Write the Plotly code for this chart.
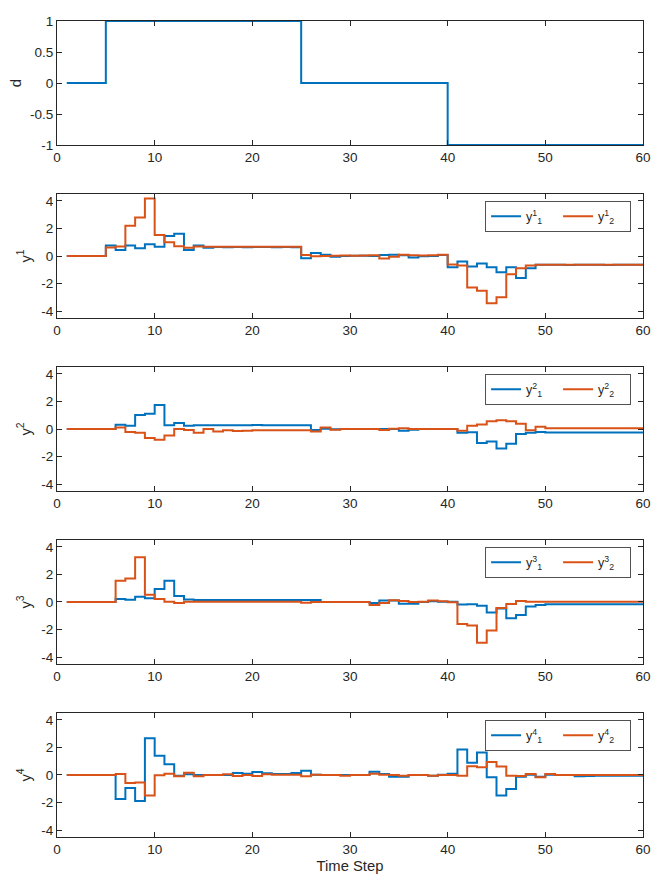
import numpy as np
import plotly.graph_objects as go
from plotly.subplots import make_subplots

# time steps 1..60
t = list(range(1, 61))

# disturbance d
d = [0] * 4 + [1] * 20 + [0] * 15 + [-1] * 21

# y^1 outputs
y1_1 = [0, 0, 0, 0, 0.76, 0.43, 0.76, 0.57, 0.86, 0.67,
        1.45, 1.62, 0.43, 0.76, 0.6, 0.65, 0.64, 0.66, 0.64, 0.65,
        0.66, 0.64, 0.65, 0.64, -0.17, 0.21, 0.1, -0.05, 0, 0.02,
        0.02, 0, 0.07, 0.1, 0.05, -0.1, -0.02, 0, 0.07, -0.81,
        -0.4, -0.76, -0.55, -0.81, -1.17, -0.81, -1.6, -0.88, -0.64, -0.63,
        -0.64, -0.65, -0.64, -0.63, -0.64, -0.65, -0.64, -0.64, -0.64, -0.64]
y1_2 = [0, 0, 0, 0, 0.62, 0.69, 2.19, 2.79, 4.17, 1.52,
        1.0, 0.71, 0.6, 0.69, 0.67, 0.67, 0.67, 0.67, 0.68, 0.67,
        0.67, 0.67, 0.67, 0.67, 0.07, -0.02, 0, 0.02, 0.03, 0.02,
        0.03, 0.05, -0.19, -0.05, 0.1, 0.05, 0.03, 0.05, 0.1, -0.62,
        -0.69, -2.29, -2.52, -3.43, -3.0, -1.33, -0.88, -0.69, -0.64, -0.64,
        -0.64, -0.64, -0.64, -0.64, -0.64, -0.64, -0.64, -0.64, -0.64, -0.64]

# y^2 outputs
y2_1 = [0, 0, 0, 0, 0, 0.31, 0.24, 1.02, 1.11, 1.75,
        0.28, 0.43, 0.24, 0.28, 0.28, 0.28, 0.27, 0.28, 0.28, 0.29,
        0.28, 0.27, 0.28, 0.28, 0.28, -0.07, 0.02, -0.02, 0, 0,
        0, 0, 0, 0, -0.12, -0.05, 0, 0, 0, 0,
        -0.28, -0.24, -1.02, -0.9, -1.42, -1.07, -0.36, -0.28, -0.21, -0.26,
        -0.26, -0.26, -0.26, -0.26, -0.26, -0.26, -0.26, -0.26, -0.26, -0.26]
y2_2 = [0, 0, 0, 0, 0, 0.1, -0.21, -0.28, -0.66, -0.78,
        -0.47, 0, -0.07, -0.28, 0, -0.19, -0.09, -0.14, -0.12, -0.09,
        -0.09, -0.09, -0.09, -0.09, -0.09, -0.19, 0.1, -0.05, 0, 0,
        0, 0, -0.07, 0.02, 0.05, 0, 0, 0, 0, 0,
        -0.12, 0.24, 0.33, 0.57, 0.64, 0.57, 0.38, -0.09, 0.17, 0.05,
        0.05, 0.05, 0.05, 0.05, 0.05, 0.05, 0.05, 0.05, 0.05, 0.05]

# y^3 outputs
y3_1 = [0, 0, 0, 0, 0, 0.21, 0.17, 0.38, 0.28, 0.95,
        1.54, 0.43, 0.19, 0.14, 0.14, 0.14, 0.14, 0.14, 0.14, 0.15,
        0.14, 0.14, 0.14, 0.14, 0.14, 0.14, 0, 0, 0, 0,
        0, -0.07, 0.1, 0.1, -0.12, -0.12, 0, 0.05, 0.02, 0.02,
        -0.19, -0.17, -0.28, -0.76, -0.47, -1.18, -0.95, -0.33, -0.21, -0.17,
        -0.17, -0.17, -0.17, -0.17, -0.17, -0.17, -0.17, -0.17, -0.17, -0.17]
y3_2 = [0, 0, 0, 0, 0, 1.54, 1.7, 3.24, 0.52, 0.21,
        0.02, -0.07, 0.02, 0.02, 0.02, 0.02, 0.02, 0.02, 0.02, 0.02,
        0.02, 0.02, 0.02, 0.02, -0.05, 0, 0, 0, 0, 0,
        0, -0.21, -0.07, 0.12, 0.07, 0, 0.02, 0.1, 0.05, -0.02,
        -1.59, -1.7, -2.96, -2.06, -0.43, -0.14, 0.07, 0.02, 0.02, 0.02,
        0.02, 0.02, 0.02, 0.02, 0.02, 0.02, 0.02, 0.02, 0.02, 0.02]

# y^4 outputs
y4_1 = [0, 0, 0, 0, 0, -1.75, -0.95, -1.89, 2.67, 1.4,
        0.78, -0.05, 0.05, 0, 0, 0, 0, 0.14, 0.09, 0.21,
        0.12, 0.07, 0.07, 0.14, 0.31, 0.02, 0, 0, 0, 0,
        0, 0.24, 0.07, -0.12, -0.12, 0, 0, -0.05, 0.02, 0.09,
        1.85, 0.88, 1.63, -0.17, -1.49, -1.02, -0.12, 0.02, -0.12, 0.02,
        0, 0, -0.09, -0.07, -0.05, -0.05, -0.05, -0.05, -0.05, -0.05]
y4_2 = [0, 0, 0, 0, 0, 0.07, -0.59, -0.54, -1.49, -0.02,
        0.09, -0.09, 0.17, -0.09, 0, 0, 0.05, -0.07, 0, -0.07,
        0.05, 0.02, 0.02, 0.02, -0.09, 0.02, 0, 0, -0.05, 0,
        0, 0.09, 0.02, 0, -0.05, 0, 0, -0.05, 0, 0,
        -0.05, 0.64, 0.57, 0.95, 0.62, -0.05, -0.07, 0.07, -0.17, 0.07,
        0, 0, 0, 0, 0, 0, 0, 0, 0, 0]

outputs = [(y1_1, y1_2), (y2_1, y2_2), (y3_1, y3_2), (y4_1, y4_2)]

xticks = [0, 10, 20, 30, 40, 50, 60]
d_ticks = [-1, -0.5, 0, 0.5, 1]
d_ticktext = ['-1', '-0.5', '0', '0.5', '1']
y_ticks = [-4, -2, 0, 2, 4]
y_ticktext = ['-4', '-2', '0', '2', '4']

BLUE = '#0072BD'
ORANGE = '#D95319'
INK = '#262626'
TICK_SIZE = 13.5
LABEL_SIZE = 14.8

fig = make_subplots(rows=5, cols=1, vertical_spacing=0.06)

# d
fig.add_trace(go.Scatter(x=t, y=d, mode='lines', line=dict(color=BLUE, width=2, shape='hv'),
                         showlegend=False), row=1, col=1)

# y^i
for i, (ya, yb) in enumerate(outputs):
    row = i + 2
    leg = 'legend' if i == 0 else 'legend%d' % (i + 1)
    sup = str(i + 1)
    fig.add_trace(go.Scatter(x=t, y=ya, mode='lines', name='y<sup>%s</sup><sub>1</sub>' % sup,
                             line=dict(color=BLUE, width=2, shape='hv'), legend=leg),
                  row=row, col=1)
    fig.add_trace(go.Scatter(x=t, y=yb, mode='lines', name='y<sup>%s</sup><sub>2</sub>' % sup,
                             line=dict(color=ORANGE, width=2, shape='hv'), legend=leg),
                  row=row, col=1)

axis_style = dict(showline=True, linecolor=INK, linewidth=1, mirror='allticks',
                  ticks='inside', ticklen=5, tickcolor=INK, showgrid=False, zeroline=False,
                  tickfont=dict(size=TICK_SIZE, color=INK), ticklabeloverflow='allow')

for r in range(1, 6):
    fig.update_xaxes(range=[0, 60], tickvals=xticks, **axis_style, row=r, col=1)

fig.update_yaxes(range=[-1, 1], tickvals=d_ticks, ticktext=d_ticktext,
                 title=dict(text='d', standoff=6, font=dict(size=LABEL_SIZE, color=INK)),
                 **axis_style, row=1, col=1)
for i in range(4):
    fig.update_yaxes(range=[-4.5, 4.5], tickvals=y_ticks, ticktext=y_ticktext,
                     title=dict(text='y<sup>%d</sup>' % (i + 1), standoff=6,
                                font=dict(size=LABEL_SIZE, color=INK)),
                     **axis_style, row=i + 2, col=1)

fig.update_xaxes(title=dict(text='Time Step', standoff=4, font=dict(size=LABEL_SIZE, color=INK)),
                 row=5, col=1)

W, H = 649, 870
M = dict(l=44, r=9, t=6, b=38)
plot_h = H - M['t'] - M['b']

# one legend per output subplot, top right corner
legend_layout = {}
for i in range(4):
    dom = fig.layout['yaxis%d' % (i + 2)].domain
    key = 'legend' if i == 0 else 'legend%d' % (i + 1)
    legend_layout[key] = dict(
        orientation='h', x=0.98, xanchor='right', y=dom[1] - 7 / plot_h, yanchor='top',
        bgcolor='white', bordercolor=INK, borderwidth=0.8,
        font=dict(size=12.5, color=INK), entrywidth=27, entrywidthmode='pixels',
        tracegroupgap=0,
    )

# page body keeps an 8px margin, so the figure is kept inside the window
fig.update_layout(
    width=W, height=H,
    margin=M,
    plot_bgcolor='white', paper_bgcolor='white',
    font=dict(family='Liberation Sans, Arial, sans-serif', color=INK),
    **legend_layout,
)

fig.write_html("out.html")
